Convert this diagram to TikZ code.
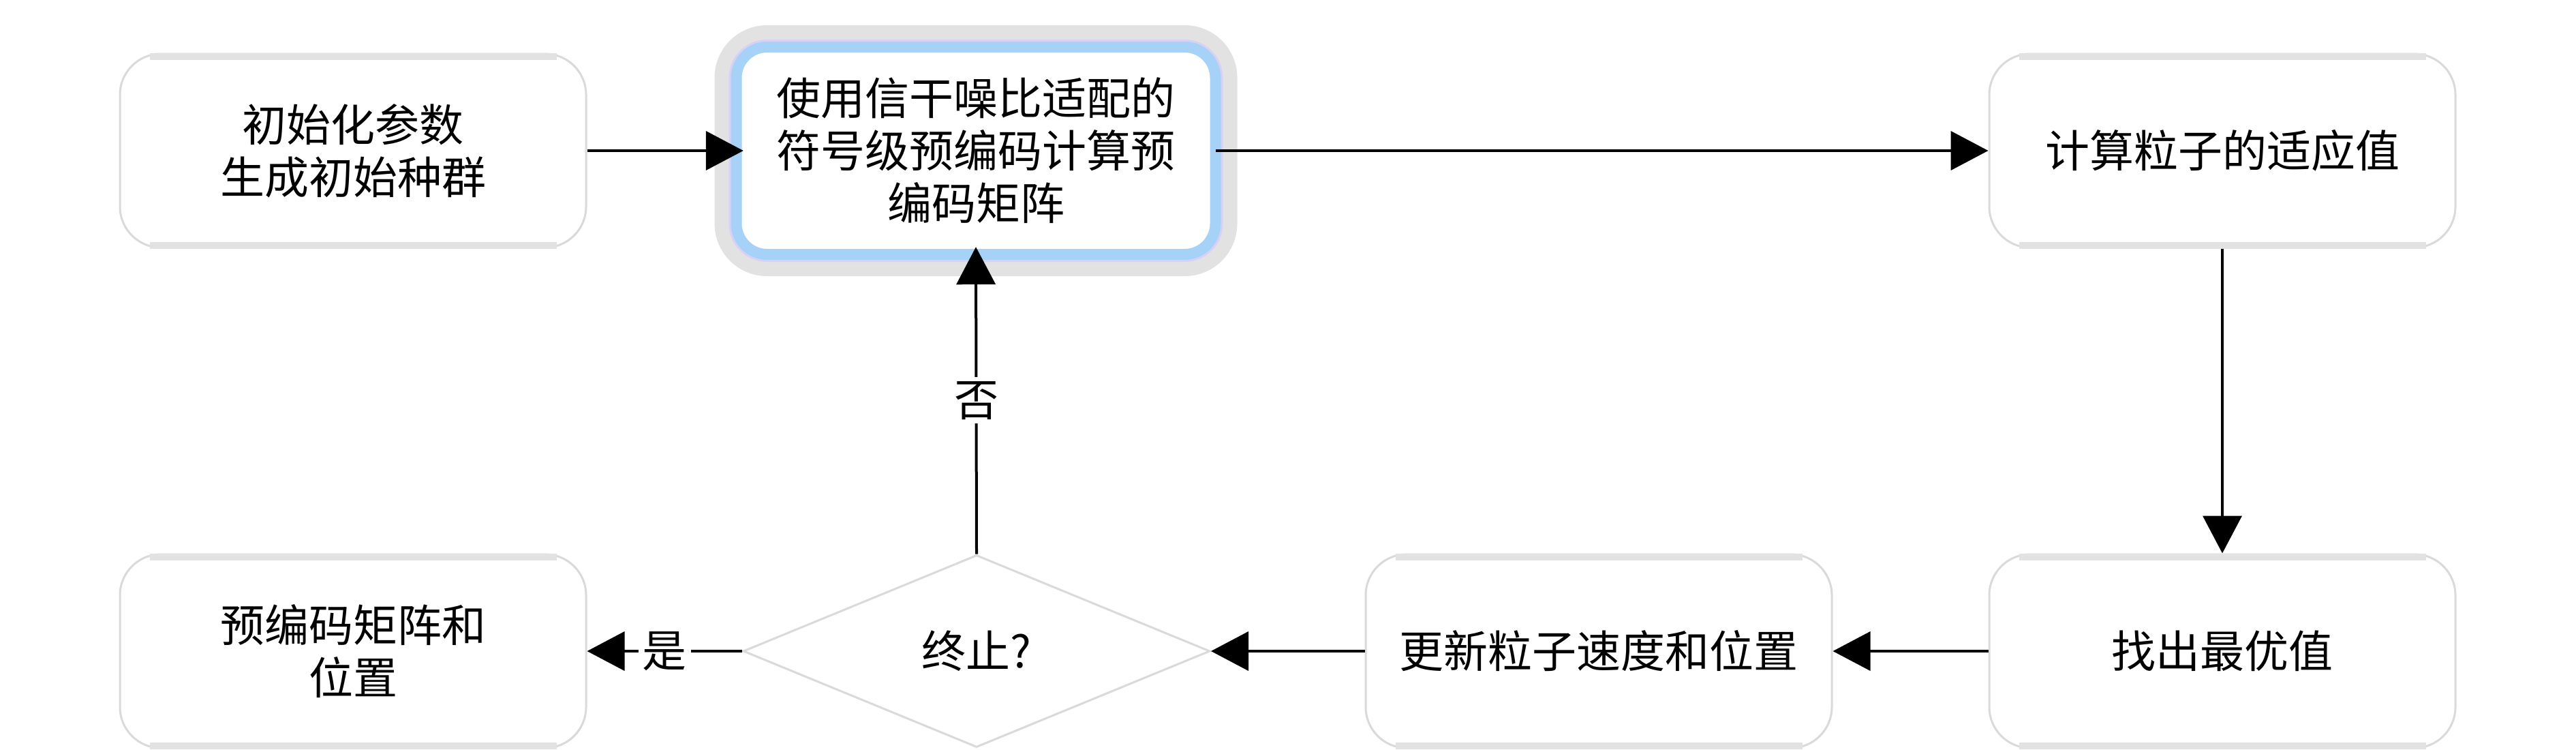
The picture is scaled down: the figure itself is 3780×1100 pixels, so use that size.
\documentclass[tikz,border=0pt]{standalone}
\usepackage{fontspec}
\newfontfamily\cjk{Noto Sans CJK SC}
\usetikzlibrary{arrows.meta,shapes.geometric}
\definecolor{boxgray}{HTML}{DADADA}
\definecolor{bandgray}{HTML}{E2E2E2}
\definecolor{hiblue}{HTML}{A6D2F8}
\definecolor{hilav}{HTML}{D8D0F6}
\tikzset{
  txt/.style={font=\cjk\fontsize{65}{77}\selectfont},
  procbox/.style={txt, rounded corners=60pt, draw=boxgray, line width=3pt, fill=white,
    minimum width=684pt, minimum height=284pt, align=center, inner sep=0pt},
  hibox/.style={txt, rounded corners=45pt, minimum width=703pt, minimum height=304pt,
    align=center, inner sep=0pt},
  decision/.style={txt, diamond, draw=boxgray, line width=3pt, fill=white,
    minimum width=685pt, minimum height=282pt, inner sep=0pt},
  band/.style={draw=bandgray, line width=10pt},
  flow/.style={line width=4pt, -{Triangle[length=55pt,width=57pt]}},
  lbl/.style={txt, fill=white, inner sep=6pt}
}
\begin{document}
\begin{tikzpicture}[x=1pt,y=-1pt]
\useasboundingbox (0,0) rectangle (3780,1100);
\fill[white] (0,0) rectangle (3780,1100);
% highlighted box (drawn as outline layers, then node)
\draw[bandgray, line width=64pt, rounded corners=45pt] (1080.5,69) rectangle (1783.5,373);
\draw[hilav, line width=22pt, rounded corners=45pt] (1080.5,69) rectangle (1783.5,373);
\draw[hiblue, line width=16pt, rounded corners=45pt, fill=white] (1080.5,69) rectangle (1783.5,373);
\node[hibox] (b2) at (1432,221) {使用信干噪比适配的\\符号级预编码计算预\\编码矩阵};
% process boxes
\node[procbox] (b1) at (518,221) {初始化参数\\生成初始种群};
\node[procbox] (b3) at (3261,221) {计算粒子的适应值};
\node[procbox] (b5) at (3261,955) {找出最优值};
\node[procbox] (b4) at (2346,955) {更新粒子速度和位置};
\node[procbox] (b6) at (518,955) {预编码矩阵和\\位置};
\node[decision] (d) at (1433,955) {终止?};
\foreach \n in {b1,b3,b4,b5,b6}{
  \draw[band] ([xshift=45pt,yshift=-5pt]\n.north west) -- ([xshift=-45pt,yshift=-5pt]\n.north east);
  \draw[band] ([xshift=45pt,yshift=5pt]\n.south west) -- ([xshift=-45pt,yshift=5pt]\n.south east);
}
% connectors
\draw[flow] (b1.east) -- ([xshift=10.5pt]b2.west);
\draw[flow] (b2.east) -- (b3.west);
\draw[flow] (b3.south) -- (b5.north);
\draw[flow] (b5.west) -- (b4.east);
\draw[flow] (b4.west) -- (d.east);
\draw[flow] (d.west) -- node[lbl, pos=0.5] {是} (b6.east);
\draw[flow] (d.north) -- node[lbl, pos=0.5] {否} ([yshift=11pt]b2.south);
\end{tikzpicture}
\end{document}
